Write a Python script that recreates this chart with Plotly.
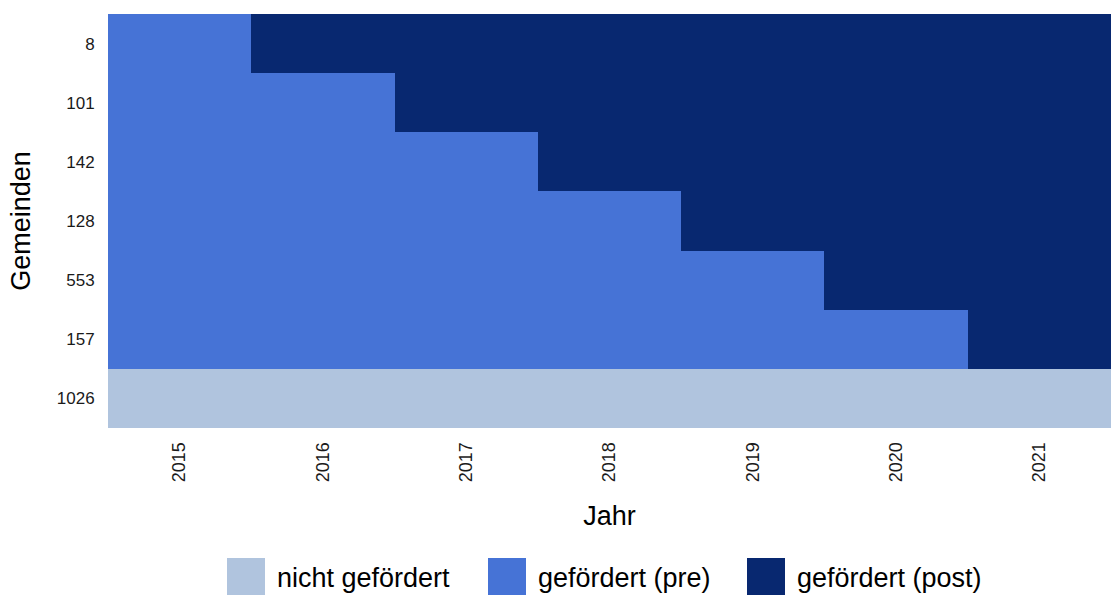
import plotly.graph_objects as go

# --- data ---
gemeinden = ["8", "101", "142", "128", "553", "157", "1026"]
jahre = ["2015", "2016", "2017", "2018", "2019", "2020", "2021"]
# 0 = nicht gefördert, 1 = gefördert (pre), 2 = gefördert (post)
status_8 = [1, 2, 2, 2, 2, 2, 2]
status_101 = [1, 1, 2, 2, 2, 2, 2]
status_142 = [1, 1, 1, 2, 2, 2, 2]
status_128 = [1, 1, 1, 1, 2, 2, 2]
status_553 = [1, 1, 1, 1, 1, 2, 2]
status_157 = [1, 1, 1, 1, 1, 1, 2]
status_1026 = [0, 0, 0, 0, 0, 0, 0]
legend_labels = ["nicht gefördert", "gefördert (pre)", "gefördert (post)"]

colors = ["#B0C4DE", "#4673D6", "#082870"]

z = [status_8, status_101, status_142, status_128, status_553, status_157, status_1026]

colorscale = [
    [0.0, colors[0]], [1 / 3, colors[0]],
    [1 / 3, colors[1]], [2 / 3, colors[1]],
    [2 / 3, colors[2]], [1.0, colors[2]],
]

fig = go.Figure(
    go.Heatmap(
        z=z, x=jahre, y=gemeinden,
        colorscale=colorscale, zmin=-0.5, zmax=2.5,
        showscale=False, xgap=0, ygap=0,
        hovertemplate="Jahr %{x}<br>Gemeinden %{y}<extra></extra>",
    )
)

FONT = "Liberation Sans, Arial, sans-serif"
W, H = 1111, 595
L, R, T, B = 108, 0, 14, 595 - 428
pw, ph = W - L - R, H - T - B

def px_x(p):  # pixel -> paper
    return (p - L) / pw

def px_y(p):
    return (H - B - p) / ph

# custom legend (large squares)
sq_left = [227, 488, 747]
sq_size = 38
sq_top = 558
for i, lab in enumerate(legend_labels):
    fig.add_shape(
        type="rect", xref="paper", yref="paper",
        x0=px_x(sq_left[i]), x1=px_x(sq_left[i] + sq_size),
        y0=px_y(sq_top), y1=px_y(sq_top + sq_size),
        fillcolor=colors[i], line=dict(width=0),
    )
    fig.add_annotation(
        xref="paper", yref="paper",
        x=px_x(sq_left[i] + sq_size + 10), y=px_y(sq_top + sq_size / 2 + 1),
        text=lab, showarrow=False, xanchor="left", yanchor="middle",
        font=dict(family=FONT, size=27, color="#000000"),
    )

fig.update_layout(
    width=W, height=H, autosize=False,
    margin=dict(l=L, r=R, t=T, b=B, pad=0),
    plot_bgcolor="white", paper_bgcolor="white",
    font=dict(family=FONT, color="#000000"),
    showlegend=False,
    xaxis=dict(
        type="category", tickangle=-90, showgrid=False, zeroline=False,
        ticks="outside", ticklen=6, tickcolor="rgba(0,0,0,0)",
        tickfont=dict(size=18, color="#1a1a1a"),
        title=dict(text="Jahr", font=dict(size=27), standoff=24),
    ),
    yaxis=dict(
        type="category", categoryorder="array", categoryarray=gemeinden,
        autorange="reversed", showgrid=False, zeroline=False,
        ticks="outside", ticklen=9, tickcolor="rgba(0,0,0,0)",
        tickfont=dict(size=17, color="#1a1a1a"),
        title=dict(text="Gemeinden", font=dict(size=27), standoff=18),
    ),
)

fig.write_html(
    "out.html",
    config={"responsive": False, "displayModeBar": False},
    post_script="document.body.style.margin='0';document.body.style.overflow='hidden';",
)
